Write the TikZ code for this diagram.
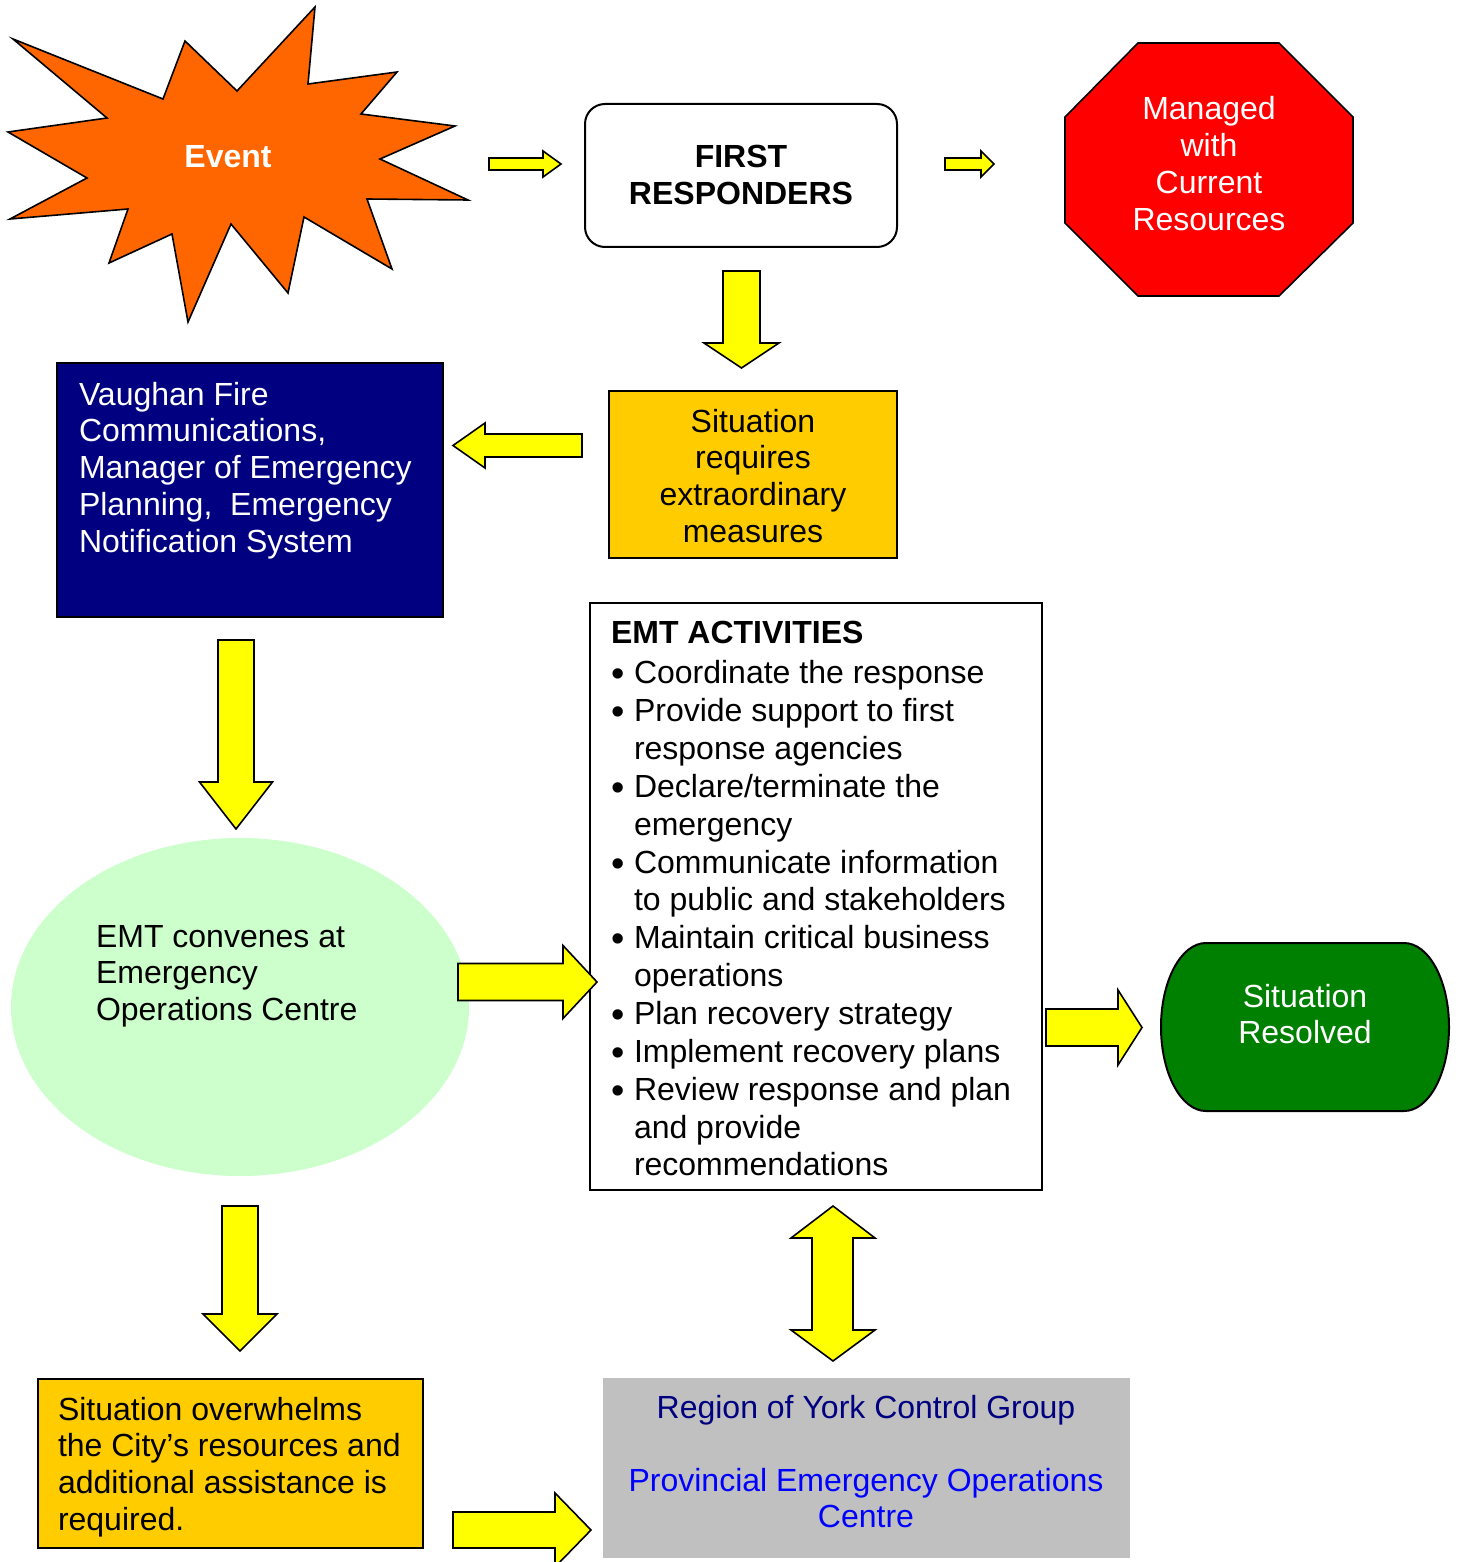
\documentclass[tikz,border=0pt]{standalone}
\usepackage{fontspec}
\setmainfont{Liberation Sans}
\usetikzlibrary{shapes.geometric}
\definecolor{starorange}{HTML}{FF6600}
\definecolor{stopred}{HTML}{FF0000}
\definecolor{boxnavy}{HTML}{000080}
\definecolor{boxgold}{HTML}{FFCC00}
\definecolor{arrowyellow}{HTML}{FFFF00}
\definecolor{palegreen}{HTML}{CCFFCC}
\definecolor{okgreen}{HTML}{008000}
\definecolor{boxgrey}{HTML}{C0C0C0}
\definecolor{linkblue}{HTML}{0000FF}
\newcommand\fs{\fontsize{32}{36.8}\selectfont}
\newcommand\mybul{\makebox[23pt][l]{\raisebox{-3pt}{\fontsize{38}{38}\selectfont•}}}
\newcommand\myharr[6]{\draw[fatarrow] (#1,#4-#5) -- (#2,#4-#5) -- (#2,#4-#6) -- (#3,#4) -- (#2,#4+#6) -- (#2,#4+#5) -- (#1,#4+#5) -- cycle;}
\newcommand\myvarr[6]{\draw[fatarrow] (#4-#5,#1) -- (#4-#5,#2) -- (#4-#6,#2) -- (#4,#3) -- (#4+#6,#2) -- (#4+#5,#2) -- (#4+#5,#1) -- cycle;}
\tikzset{
  fatarrow/.style={fill=arrowyellow, draw=black, line width=1.6pt, line join=miter},
  txt/.style={inner sep=0pt, outer sep=0pt, font=\fs},
  boxshape/.style={draw=black, line width=2pt, inner sep=0pt, outer sep=0pt},
}
\begin{document}
\begin{tikzpicture}[x=1pt,y=-1pt]
\useasboundingbox (0,0) rectangle (1459,1562);
% Event star
\filldraw[fill=starorange, draw=black, line width=1.6pt, line join=miter]
  (13,39) -- (107,118) -- (8,132) -- (87,178) -- (10,219) -- (128,209) -- (109,263)
  -- (172,234) -- (188,322) -- (231,224) -- (288,293) -- (304,217) -- (392,269)
  -- (367,199) -- (468,200) -- (380,159) -- (455,126) -- (361,114) -- (397,72)
  -- (308,84) -- (315,7) -- (237,91) -- (185,41) -- (163,99) -- cycle;
\node[txt, font=\fs\bfseries, text=white, anchor=base] (event) at (228,168) {Event};
% First responders
\node[boxshape, rounded corners=20pt, fill=white, minimum width=312, minimum height=143] (fr) at (741,175.5) {};
\node[txt, font=\fs\bfseries, align=center, anchor=north] (frtxt) at (741,168-25.76) {\strut FIRST\\RESPONDERS};
% Octagon
\filldraw[fill=stopred, draw=black, line width=1.6pt]
  (1138,43) -- (1279,43) -- (1353,117) -- (1353,223) -- (1279,296) -- (1138,296) -- (1065,223) -- (1065,117) -- cycle;
\node[txt, text=white, align=center, anchor=north] (managed) at (1209,120-25.76) {\strut Managed\\with\\Current\\Resources};
% Situation requires
\node[boxshape, fill=boxgold, minimum width=288, minimum height=167] (req) at (753,474.5) {};
\node[txt, align=center, anchor=north] (reqtxt) at (753,432-25.76) {\strut Situation\\requires\\extraordinary\\measures};
% Vaughan
\node[boxshape, fill=boxnavy, minimum width=386, minimum height=254] (vaughan) at (250,490) {};
\node[txt, text=white, align=left, anchor=north west] (vaughantxt) at (79,405-25.76) {\strut Vaughan Fire\\Communications,\\Manager of Emergency\\Planning,\ \ Emergency\\Notification System};
% Ellipse
\node[ellipse, fill=palegreen, minimum width=458, minimum height=338, inner sep=0pt] (eoc) at (240,1007) {};
\node[txt, align=left, anchor=north west] (eoctxt) at (96,947-25.76) {\strut EMT convenes at\\Emergency\\Operations Centre};
% EMT activities
\node[boxshape, fill=white, minimum width=452, minimum height=587] (emt) at (816,896.5) {};
\node[txt, font=\fontsize{32}{37.85}\selectfont, align=left, anchor=north west] (emttxt) at (611,643-26.5)
 {\rule{0pt}{26.5pt}\textbf{EMT ACTIVITIES}\\[3pt]
  \mybul Coordinate the response\\
  \mybul Provide support to first\\
  \hspace*{23pt}response agencies\\
  \mybul Declare/terminate the\\
  \hspace*{23pt}emergency\\
  \mybul Communicate information\\
  \hspace*{23pt}to public and stakeholders\\
  \mybul Maintain critical business\\
  \hspace*{23pt}operations\\
  \mybul Plan recovery strategy\\
  \mybul Implement recovery plans\\
  \mybul Review response and plan\\
  \hspace*{23pt}and provide\\
  \hspace*{23pt}recommendations};
% Situation resolved
\filldraw[fill=okgreen, draw=black, line width=2pt]
  (1206,943) -- (1404,943) arc[start angle=-90, end angle=90, x radius=45, y radius=84]
  -- (1206,1111) arc[start angle=90, end angle=270, x radius=45, y radius=84] -- cycle;
\node[txt, text=white, align=center, anchor=north] (resolved) at (1305,1007-25.76) {\strut Situation\\Resolved};
% Overwhelms
\node[boxshape, fill=boxgold, minimum width=385, minimum height=169] (over) at (230.5,1463.5) {};
\node[txt, align=left, anchor=north west] (overtxt) at (58,1420-25.76) {\strut Situation overwhelms\\the City’s resources and\\additional assistance is\\required.};
% York
\node[fill=boxgrey, minimum width=527, minimum height=180, inner sep=0pt] (york) at (866.5,1468) {};
\node[txt, text=boxnavy, anchor=base] (yorktxt) at (866,1418) {Region of York Control Group};
\node[txt, text=linkblue, align=center, anchor=north] (peoc) at (866,1491-25.76) {\strut Provincial Emergency Operations\\Centre};
% Block arrows
\myharr{489}{543}{561}{164}{6}{13}
\myharr{945}{981}{994}{164}{6}{13}
\myvarr{271}{343}{368}{741.5}{18.5}{37.5}
\myharr{582}{485}{453}{445.5}{11.5}{22.5}
\myvarr{640}{782}{829}{236}{18}{36.5}
\myharr{458}{563}{597}{982}{18.5}{36.5}
\myharr{1046}{1118}{1142}{1027.5}{18.5}{37.5}
\myvarr{1206}{1314}{1351}{240}{18}{37}
\myharr{453}{555}{591}{1530}{18}{37}
\draw[fatarrow] (833,1206) -- (875,1238) -- (853,1238) -- (853,1330) -- (875,1330) -- (833,1361)
  -- (791,1330) -- (812,1330) -- (812,1238) -- (791,1238) -- cycle;
\end{tikzpicture}
\end{document}
